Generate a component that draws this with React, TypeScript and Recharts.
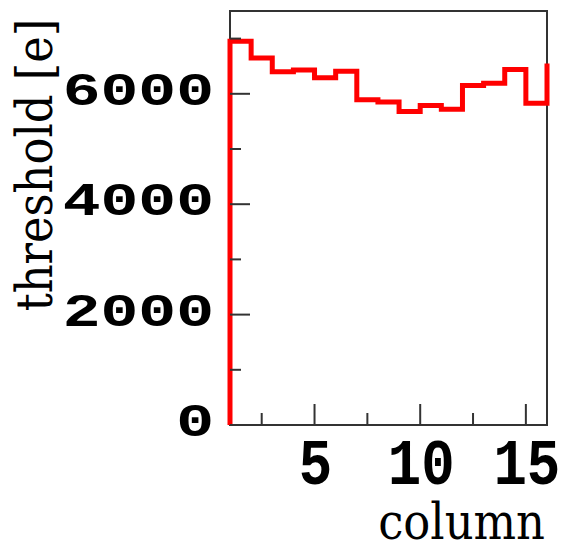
import React from "react";
import { ComposedChart, Line, XAxis, YAxis, ReferenceArea } from "recharts";

// Histogram bin edges (column) and threshold values [e]
const columns = [1, 1, 2, 3, 4, 5, 6, 7, 8, 9, 10, 11, 12, 13, 14, 15, 16];
const thresholds = [0, 6950, 6650, 6400, 6430, 6290, 6410, 5890, 5850, 5680, 5790, 5720, 6150, 6190, 6440, 5830, 6550];

const xTicks = [2.5, 5, 7.5, 10, 12.5, 15];
const xLabelTicks = [5, 10, 15];
const yTicks = [0, 1000, 2000, 3000, 4000, 5000, 6000, 7000];
const yLabelTicks = [0, 2000, 4000, 6000];

const data = columns.map((c, i) => ({ column: c, threshold: thresholds[i] }));

const XTick = (props: any) => {
  const { x, y, payload } = props;
  const major = xLabelTicks.includes(payload.value);
  return (
    <g>
      <line x1={x} y1={y} x2={x} y2={y - (major ? 21 : 12)} stroke="#333" strokeWidth={2} />
      {major && (
        <text
          transform={`translate(${x + 1},${y + 59}) scale(0.87,1)`}
          textAnchor="middle"
          fontFamily="'Liberation Mono', monospace"
          fontWeight="bold"
          fontSize={64}
          fill="#000"
        >
          {payload.value}
        </text>
      )}
    </g>
  );
};

const YTick = (props: any) => {
  const { x, y, payload } = props;
  const major = yLabelTicks.includes(payload.value);
  return (
    <g>
      <line x1={x} y1={y} x2={x + (major ? 20 : 11)} y2={y} stroke="#333" strokeWidth={2} />
      {major && (
        <text
          transform={`translate(214,${y + 11}) scale(1.37,1)`}
          textAnchor="end"
          fontFamily="'Liberation Mono', monospace"
          fontWeight="bold"
          fontSize={46}
          fill="#000"
        >
          {payload.value}
        </text>
      )}
    </g>
  );
};

export default function App() {
  return (
    <div style={{ position: "absolute", left: 0, top: 0, background: "#fff" }}>
      <ComposedChart
        width={564}
        height={541}
        data={data}
        margin={{ top: 11, right: 17, bottom: 0, left: 0 }}
      >
        <XAxis
          dataKey="column"
          type="number"
          domain={[1, 16]}
          ticks={xTicks}
          height={116}
          tickSize={0}
          tickMargin={0}
          axisLine={false}
          tickLine={false}
          tick={XTick}
          interval={0}
        />
        <YAxis
          type="number"
          domain={[0, 7500]}
          ticks={yTicks}
          width={230}
          tickSize={0}
          tickMargin={0}
          axisLine={false}
          tickLine={false}
          tick={YTick}
          interval={0}
        />
        <ReferenceArea x1={1} x2={16} y1={0} y2={7500} fill="none" stroke="#333" strokeWidth={2} />
        <Line
          dataKey="threshold"
          type="stepAfter"
          stroke="#ff0000"
          strokeWidth={5}
          dot={false}
          isAnimationActive={false}
          strokeLinecap="butt"
          strokeLinejoin="miter"
        />
        <text
          transform="translate(52,165) rotate(-90) scale(0.88,1)"
          textAnchor="middle"
          fontFamily="'DejaVu Serif', serif"
          fontSize={51}
          fill="#000"
        >
          threshold [e]
        </text>
        <text
          transform="translate(545,539) scale(0.88,1)"
          textAnchor="end"
          fontFamily="'DejaVu Serif', serif"
          fontSize={51}
          fill="#000"
        >
          column
        </text>
      </ComposedChart>
    </div>
  );
}
